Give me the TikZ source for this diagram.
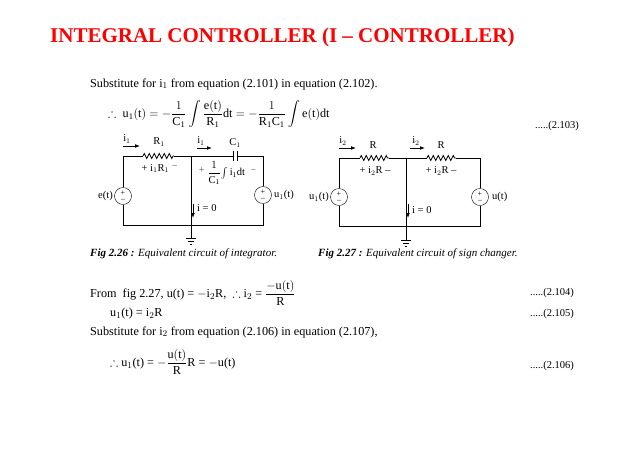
\documentclass[tikz,border=0pt]{standalone}
\usepackage{amsmath,amssymb}
\usepackage{fontspec}
\setmainfont{Liberation Serif}
\usetikzlibrary{decorations.pathmorphing,arrows.meta}
\begin{document}
\begin{tikzpicture}[x=1pt,y=-1pt,
  txt/.style={anchor=west,inner sep=0,font=\fontsize{12.2}{14}\selectfont},
  lbl/.style={inner sep=0,font=\fontsize{10.5}{12}\selectfont},
  src/.style={circle,draw,minimum size=17pt,inner sep=0,font=\fontsize{8}{8}\selectfont,align=center},
  wire/.style={line width=0.7pt},
  res/.style={decorate,decoration={zigzag,segment length=5pt,amplitude=2.5pt}},
  cur/.style={-{Latex[length=5pt]},line width=0.8pt}]
\useasboundingbox (0,0) rectangle (638,451);
\node[anchor=west,inner sep=0,text=red,font=\fontsize{21}{24}\bfseries\selectfont] (title) at (50,37) {INTEGRAL CONTROLLER (I – CONTROLLER)};
\node[txt] (t1) at (90,84) {Substitute for i$_1$ from equation (2.101) in equation (2.102).};
\node[txt] (t2) at (108,114) {$\therefore\ \mathrm{u_1(t)}=-\dfrac{1}{\mathrm{C_1}}\displaystyle\int \dfrac{\mathrm{e(t)}}{\mathrm{R_1}}\mathrm{dt}=-\dfrac{1}{\mathrm{R_1C_1}}\int \mathrm{e(t)dt}$};
\node[txt,font=\fontsize{10.5}{12}\selectfont] (n1) at (535,126) {.....(2.103)};
% circuit 1
\coordinate (a1) at (123,156); \coordinate (r1a) at (143,156); \coordinate (r1b) at (174,156);
\coordinate (j1) at (191,156); \coordinate (c1a) at (233,156); \coordinate (c1b) at (237,156);
\coordinate (b1) at (263,156);
\coordinate (a2) at (123,225); \coordinate (j2) at (191,225); \coordinate (b2) at (263,225);
\node[src] (e) at (123,196) {+\\[-2pt]--};
\node[src] (u1) at (263,195) {+\\[-2pt]--};
\draw[wire] (e.north) -- (a1) -- (r1a);
\draw[wire,res] (r1a) -- (r1b);
\draw[wire] (r1b) -- (c1a);
\draw[wire] (c1a)++(0,-5) -- ++(0,10);
\draw[wire] (c1b)++(0,-5) -- ++(0,10);
\draw[wire] (c1b) -- (b1) -- (u1.north);
\draw[wire] (u1.south) -- (b2) -- (a2) -- (e.south);
\coordinate (g1) at (191,238);
\draw[wire] (j1) -- (g1);
\draw[wire] (186,238) -- (196,238) (188,241) -- (194,241) (190,244) -- (192,244);
\draw[cur] (123,146) -- (140,146);
\node[lbl] (li1) at (127,139) {i$_1$};
\node[lbl] (lR1) at (159,142) {R$_1$};
\draw[cur] (197,148) -- (212,148);
\node[lbl] (li1b) at (201,141) {i$_1$};
\node[lbl] (lC1) at (235,143) {C$_1$};
\node[lbl] (lv1) at (160,168) {+ i$_1$R$_1$ $^-$};
\node[lbl] (lv2) at (228,173) {$^+\,\dfrac{1}{\mathrm{C_1}}\!\int \mathrm{i_1dt}\ \ ^-$};
\node[lbl,anchor=east] (le) at (113,196) {e(t)};
\node[lbl,anchor=west] (lu1) at (274,195) {u$_1$(t)};
\draw[cur] (193,204) -- (193,218);
\node[lbl,anchor=west] (li0) at (197,208) {i = 0};
\node[txt,font=\fontsize{11}{13}\itshape\selectfont] (cap1) at (90,254) {\textbf{Fig 2.26 :} Equivalent circuit of integrator.};
% circuit 2
\coordinate (p1) at (339,158); \coordinate (q1a) at (360,158); \coordinate (q1b) at (389,158);
\coordinate (k1) at (406,158); \coordinate (q2a) at (427,158); \coordinate (q2b) at (456,158);
\coordinate (s1) at (480,158);
\coordinate (p2) at (339,226); \coordinate (k2) at (406,226); \coordinate (s2) at (480,226);
\node[src] (ui) at (339,197) {+\\[-2pt]--};
\node[src] (u) at (480,197) {+\\[-2pt]--};
\draw[wire] (ui.north) -- (p1) -- (q1a);
\draw[wire,res] (q1a) -- (q1b);
\draw[wire] (q1b) -- (q2a);
\draw[wire,res] (q2a) -- (q2b);
\draw[wire] (q2b) -- (s1) -- (u.north);
\draw[wire] (u.south) -- (s2) -- (p2) -- (ui.south);
\coordinate (g2) at (406,240);
\draw[wire] (k1) -- (g2);
\draw[wire] (401,240) -- (411,240) (403,243) -- (409,243) (405,246) -- (407,246);
\draw[cur] (339,148) -- (356,148);
\node[lbl] (li2) at (343,141) {i$_2$};
\node[lbl] (lR) at (373,145) {R};
\draw[cur] (410,148) -- (425,148);
\node[lbl] (li2b) at (416,141) {i$_2$};
\node[lbl] (lR2) at (441,145) {R};
\node[lbl] (lv3) at (375,171) {+ i$_2$R --};
\node[lbl] (lv4) at (441,171) {+ i$_2$R --};
\node[lbl,anchor=east] (lui) at (329,197) {u$_1$(t)};
\node[lbl,anchor=west] (lu) at (492,197) {u(t)};
\draw[cur] (408,204) -- (408,218);
\node[lbl,anchor=west] (li02) at (412,210) {i = 0};
\node[txt,font=\fontsize{11}{13}\itshape\selectfont] (cap2) at (318,254) {\textbf{Fig 2.27 :} Equivalent circuit of sign changer.};
% bottom text
\node[txt] (t3) at (90,293) {From\ \ fig 2.27, u(t) = $-$i$_2$R,\ \ $\therefore$\ i$_2$ = $\dfrac{-\mathrm{u(t)}}{\mathrm{R}}$};
\node[txt,font=\fontsize{10.5}{12}\selectfont] (n2) at (530,293) {.....(2.104)};
\node[txt] (t4) at (110,314) {u$_1$(t) = i$_2$R};
\node[txt,font=\fontsize{10.5}{12}\selectfont] (n3) at (530,314) {.....(2.105)};
\node[txt] (t5) at (90,332) {Substitute for i$_2$ from equation (2.106) in equation (2.107),};
\node[txt] (t6) at (110,362) {$\therefore$\ u$_1$(t) = $-\dfrac{\mathrm{u(t)}}{\mathrm{R}}$R = $-$u(t)};
\node[txt,font=\fontsize{10.5}{12}\selectfont] (n4) at (530,366) {.....(2.106)};
\end{tikzpicture}
\end{document}
